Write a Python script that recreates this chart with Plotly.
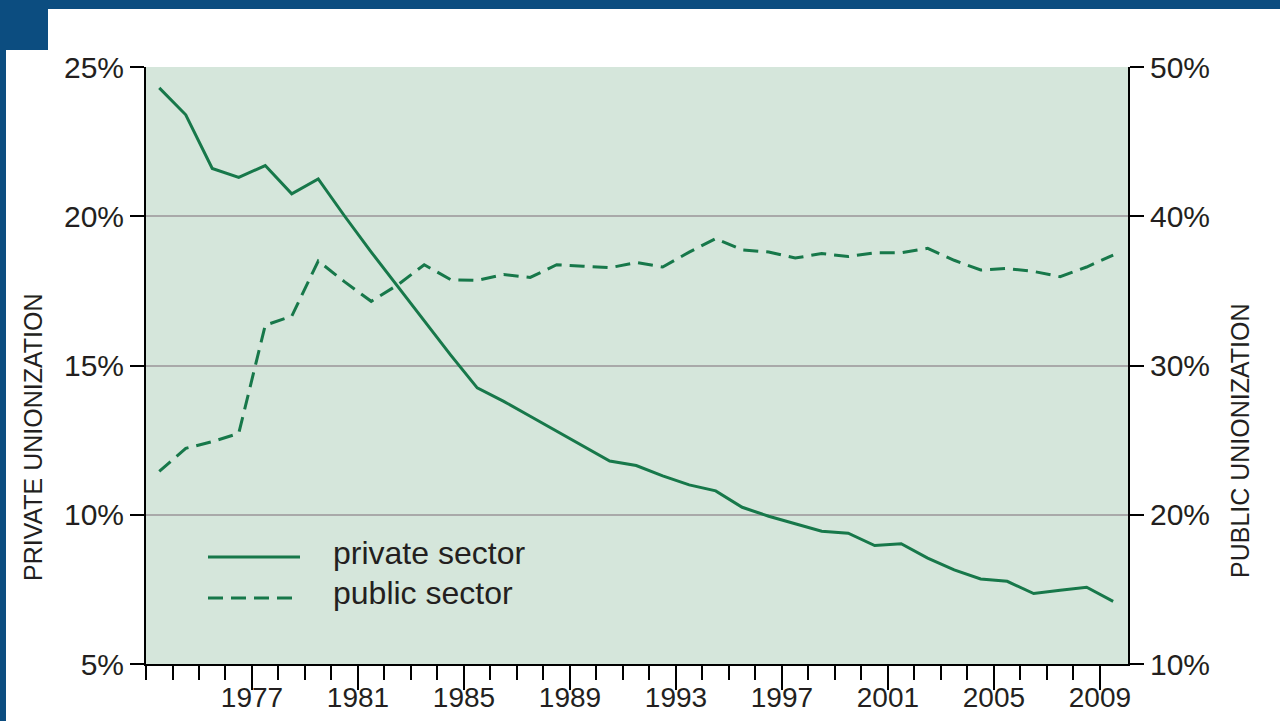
import plotly.graph_objects as go

# ---- data ----
years = [1973, 1974, 1975, 1976, 1977, 1978, 1979, 1980, 1981, 1982,
         1983, 1984, 1985, 1986, 1987, 1988, 1989, 1990, 1991, 1992,
         1993, 1994, 1995, 1996, 1997, 1998, 1999, 2000, 2001, 2002,
         2003, 2004, 2005, 2006, 2007, 2008, 2009]

private_sector = [24.3, 23.4, 21.6, 21.3, 21.7, 20.75, 21.25, 20.0, 18.8, 17.65,
                  16.5, 15.35, 14.25, 13.8, 13.3, 12.8, 12.3, 11.8, 11.65, 11.3,
                  11.0, 10.8, 10.25, 9.95, 9.7, 9.45, 9.38, 8.97, 9.03, 8.55,
                  8.15, 7.85, 7.77, 7.36, 7.47, 7.57, 7.1]

public_sector = [22.9, 24.45, 24.9, 25.45, 32.7, 33.3, 37.0, 35.6, 34.3, 35.4,
                 36.75, 35.75, 35.7, 36.1, 35.9, 36.75, 36.65, 36.55, 36.9, 36.6,
                 37.6, 38.5, 37.75, 37.6, 37.2, 37.5, 37.3, 37.55, 37.55, 37.85,
                 37.05, 36.4, 36.5, 36.3, 35.95, 36.6, 37.4]

x_label_years = [1977, 1981, 1985, 1989, 1993, 1997, 2001, 2005, 2009]
left_ticks = [5, 10, 15, 20, 25]
left_tick_text = ["5%", "10%", "15%", "20%", "25%"]
right_ticks = [10, 20, 30, 40, 50]
right_tick_text = ["10%", "20%", "30%", "40%", "50%"]

series_names = ["private sector", "public sector"]
left_title = "PRIVATE UNIONIZATION"
right_title = "PUBLIC UNIONIZATION"

# ---- style ----
W, H = 1280, 721
ML, MR, MT, MB = 146, 152, 67, 57
GREEN = "#17784a"
TEXT = "#231f20"
BG = "#d5e6db"
GRID = "#a9a9a9"
BLUE = "#0c4d80"
DASH = "15px,8px"
FONT = "Liberation Sans, Arial, Helvetica, sans-serif"

PW = W - ML - MR
PH = H - MT - MB
PLOT_BOTTOM = MT + PH


def px_x(px):
    return (px - ML) / PW


def px_y(py):
    return (PLOT_BOTTOM - py) / PH


# data points sit at mid-year
xs = [y + 0.5 for y in years]

fig = go.Figure()
fig.add_trace(go.Scatter(x=xs, y=private_sector, mode="lines", name=series_names[0],
                         line=dict(color=GREEN, width=3), yaxis="y", showlegend=False))
fig.add_trace(go.Scatter(x=xs, y=public_sector, mode="lines", name=series_names[1],
                         line=dict(color=GREEN, width=3, dash=DASH), yaxis="y2", showlegend=False))

shapes = [
    # blue frame
    dict(type="rect", xref="paper", yref="paper", x0=px_x(0), x1=px_x(W), y0=px_y(9), y1=px_y(0),
         fillcolor=BLUE, line=dict(width=0), layer="above"),
    dict(type="rect", xref="paper", yref="paper", x0=px_x(0), x1=px_x(48), y0=px_y(50), y1=px_y(0),
         fillcolor=BLUE, line=dict(width=0), layer="above"),
    dict(type="rect", xref="paper", yref="paper", x0=px_x(0), x1=px_x(6), y0=px_y(H), y1=px_y(0),
         fillcolor=BLUE, line=dict(width=0), layer="above"),
    # legend keys
    dict(type="line", xref="paper", yref="paper", x0=px_x(208), x1=px_x(300), y0=px_y(557), y1=px_y(557),
         line=dict(color=GREEN, width=3)),
    dict(type="line", xref="paper", yref="paper", x0=px_x(208), x1=px_x(300), y0=px_y(598), y1=px_y(598),
         line=dict(color=GREEN, width=3, dash=DASH)),
]

annotations = [
    dict(text=series_names[0], xref="paper", yref="paper", x=px_x(331), y=px_y(553),
         xanchor="left", yanchor="middle", showarrow=False, font=dict(size=32, color=TEXT, family=FONT)),
    dict(text=series_names[1], xref="paper", yref="paper", x=px_x(331), y=px_y(593),
         xanchor="left", yanchor="middle", showarrow=False, font=dict(size=32, color=TEXT, family=FONT)),
    dict(text=left_title, xref="paper", yref="paper", x=px_x(33), y=px_y(437), textangle=-90,
         xanchor="center", yanchor="middle", showarrow=False, font=dict(size=25, color=TEXT, family=FONT)),
    dict(text=right_title, xref="paper", yref="paper", x=px_x(1240), y=px_y(441), textangle=-90,
         xanchor="center", yanchor="middle", showarrow=False, font=dict(size=25, color=TEXT, family=FONT)),
]

fig.update_layout(
    width=W, height=H, autosize=False,
    margin=dict(l=ML, r=MR, t=MT, b=MB, pad=0),
    paper_bgcolor="white",
    plot_bgcolor=BG,
    font=dict(family=FONT, color=TEXT),
    shapes=shapes,
    annotations=annotations,
    xaxis=dict(
        range=[1973, 2010.06], showgrid=False, zeroline=False, automargin=False,
        tickvals=x_label_years, ticktext=[str(y) for y in x_label_years],
        ticks="outside", ticklen=24, tickwidth=2, tickcolor="black",
        ticklabelstandoff=-17,
        showline=True, linecolor="black", linewidth=2,
        tickfont=dict(size=28, color=TEXT, family=FONT),
        minor=dict(tickvals=years, ticks="outside", ticklen=14, tickwidth=2,
                   tickcolor="black", showgrid=False),
    ),
    yaxis=dict(
        range=[5, 25], tickvals=left_ticks, ticktext=left_tick_text, automargin=False,
        ticks="outside", ticklen=14, tickwidth=2, tickcolor="black",
        showline=True, linecolor="black", linewidth=2,
        showgrid=True, gridcolor=GRID, gridwidth=2, zeroline=False,
        tickfont=dict(size=30, color=TEXT, family=FONT),
    ),
    yaxis2=dict(
        overlaying="y", side="right", automargin=False,
        range=[10, 50], tickvals=right_ticks, ticktext=right_tick_text,
        ticks="outside", ticklen=14, tickwidth=2, tickcolor="black",
        showline=True, linecolor="black", linewidth=2,
        showgrid=False, zeroline=False,
        tickfont=dict(size=30, color=TEXT, family=FONT),
    ),
)

fig.write_html("out.html",
               config={"displayModeBar": False, "responsive": False},
               post_script="document.body.style.margin='0';")
